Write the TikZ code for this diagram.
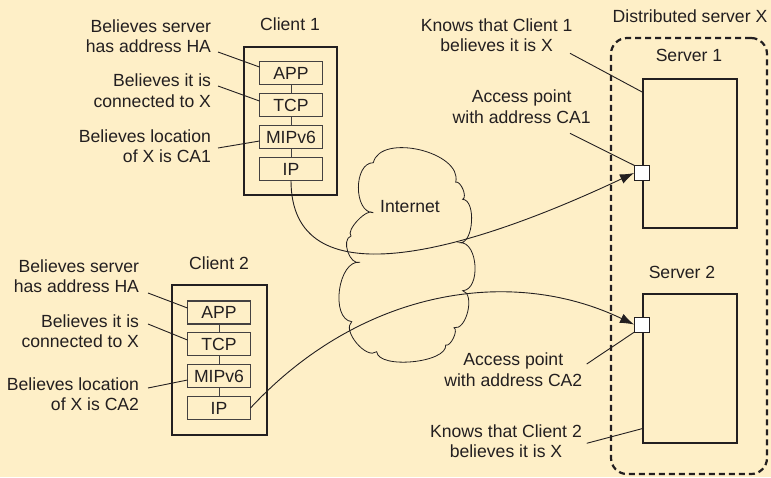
\documentclass[tikz,border=0pt]{standalone}
\usepackage{fontspec}
\setmainfont{Liberation Sans}
\usetikzlibrary{arrows.meta,calc}
\definecolor{bg}{RGB}{254,239,199}
\definecolor{ink}{RGB}{35,31,32}
\begin{document}
\begin{tikzpicture}[x=1pt,y=-1pt,
 font=\fontsize{17.6}{20.5}\selectfont, text=ink,
 every node/.style={inner sep=0pt, outer sep=0pt},
 lbl/.style={align=right, anchor=east},
 clbl/.style={align=center},
 clientbox/.style={draw=ink, line width=2.6pt, minimum width=93pt, minimum height=148pt},
 layerbox/.style={draw=ink!85, line width=1.1pt, minimum width=63pt, minimum height=23pt},
 serverbox/.style={draw=ink, line width=2.4pt, minimum width=94pt, minimum height=149pt},
 apbox/.style={draw=ink, fill=white, line width=1pt, minimum size=15pt},
 groupbox/.style={draw=ink, line width=2.2pt, dash pattern=on 6pt off 4pt, rounded corners=16pt, minimum width=156pt, minimum height=436pt},
 pointer/.style={draw=ink, line width=0.9pt},
 stackline/.style={draw=ink!85, line width=1pt},
 link/.style={draw=ink, line width=0.9pt, -{Latex[length=14pt,width=10pt]}},
 cloudline/.style={draw=ink, line width=0.8pt},
]
\fill[bg] (0,0) rectangle (771,477);
\useasboundingbox (0,0) rectangle (771,477);

% ---------- Client 1 ----------
\node[clientbox] (c1) at (290.5,121) {};
\node (c1t) at (290,24.5) {Client 1};
\node[layerbox] (app1) at (291,73) {APP};
\node[layerbox] (tcp1) at (291,105) {TCP};
\node[layerbox] (mip1) at (291,137) {MIPv6};
\node[layerbox] (ip1) at (291,169) {IP};
\draw[stackline] (app1) -- (tcp1);
\draw[stackline] (tcp1) -- (mip1);
\draw[stackline] (mip1) -- (ip1);

\node[lbl] (c1a) at (211,36) {Believes server\\has address HA};
\node[lbl] (c1b) at (211,90.5) {Believes it is\\connected to X};
\node[lbl] (c1c) at (211,146) {Believes location\\of X is CA1};
\coordinate (c1ap) at (218,52);
\coordinate (c1bp) at (218,86);
\coordinate (c1cp) at (218,148);
\draw[pointer] (c1ap) -- ($(app1.west)+(0,-6)$);
\draw[pointer] (c1bp) -- ($(tcp1.west)+(0,-4)$);
\draw[pointer] (c1cp) -- ($(mip1.west)+(0,4)$);

% ---------- Client 2 ----------
\node[clientbox, minimum width=95pt, minimum height=150pt] (c2) at (219.5,360) {};
\node (c2t) at (219,263.5) {Client 2};
\node[layerbox] (app2) at (219,312.5) {APP};
\node[layerbox] (tcp2) at (219,344) {TCP};
\node[layerbox] (mip2) at (219,376) {MIPv6};
\node[layerbox] (ip2) at (219,408) {IP};
\draw[stackline] (app2) -- (tcp2);
\draw[stackline] (tcp2) -- (mip2);
\draw[stackline] (mip2) -- (ip2);

\node[lbl] (c2a) at (139,276) {Believes server\\has address HA};
\node[lbl] (c2b) at (139,331) {Believes it is\\connected to X};
\node[lbl] (c2c) at (139,394) {Believes location\\of X is CA2};
\coordinate (c2ap) at (148,293);
\coordinate (c2bp) at (148,324);
\coordinate (c2cp) at (148,388);
\draw[pointer] (c2ap) -- ($(app2.west)+(0,-4.5)$);
\draw[pointer] (c2bp) -- ($(tcp2.west)+(0,-4)$);
\draw[pointer] (c2cp) -- ($(mip2.west)+(0,4)$);

% ---------- Internet cloud ----------
\draw[cloudline]
 (373.3,212.7) to[bend left=90, looseness=1.02] (373.3,162.7)
 to[bend left=90, looseness=0.94] (455.7,182.3)
 to[bend left=90, looseness=0.75] (462.7,199.3)
 to[bend left=90, looseness=0.8] (460,242.7)
 to[bend left=90, looseness=0.97] (462.7,290.7)
 to[bend left=90, looseness=0.87] (454,327.7)
 to[bend left=90, looseness=0.7] (445.7,345)
 to[bend left=90, looseness=0.66] (376.7,351.7)
 to[bend left=90, looseness=0.87] (351.7,321.7)
 to[bend left=90, looseness=0.94] (360,262.3)
 to[bend left=90, looseness=1.0] (351,236)
 to[bend left=90, looseness=0.63] (373.3,212.7);
\node (inet) at (410,206.5) {Internet};

% ---------- Distributed server ----------
\node[groupbox] (distx) at (689,256) {};
\node (distt) at (690,16.5) {Distributed server X};
\node[serverbox] (s1) at (689.7,153.3) {};
\node (s1t) at (689,55.5) {Server 1};
\node[serverbox] (s2) at (689.7,368.5) {};
\node (s2t) at (682,272) {Server 2};

% links
\draw[link] (ip1.south) .. controls (291,300) and (460,255) .. (634,173);
\draw[link] (ip2.east) .. controls (360,290) and (510,265) .. (634,324.5);

\node[apbox] (ap1) at (642,173) {};
\node[apbox] (ap2) at (642,324.5) {};

% right labels
\node[clbl] (k1) at (496.7,35) {Knows that Client 1\\believes it is X};
\node[clbl] (a1) at (521.7,106.5) {Access point\\with address CA1};
\node[clbl] (a2) at (513.3,369.5) {Access point\\with address CA2};
\node[clbl] (k2) at (506,441) {Knows that Client 2\\believes it is X};
\coordinate (k1p) at (570,53.3);
\coordinate (a1p) at (570,133.3);
\coordinate (a2p) at (586.7,364);
\coordinate (k2p) at (586.7,443.3);
\draw[pointer] (k1p) -- ($(s1.west)+(0,-61)$);
\draw[pointer] (a1p) -- (ap1.north west);
\draw[pointer] (a2p) -- (ap2.south west);
\draw[pointer] (k2p) -- ($(s2.west)+(0,60)$);
\end{tikzpicture}
\end{document}
